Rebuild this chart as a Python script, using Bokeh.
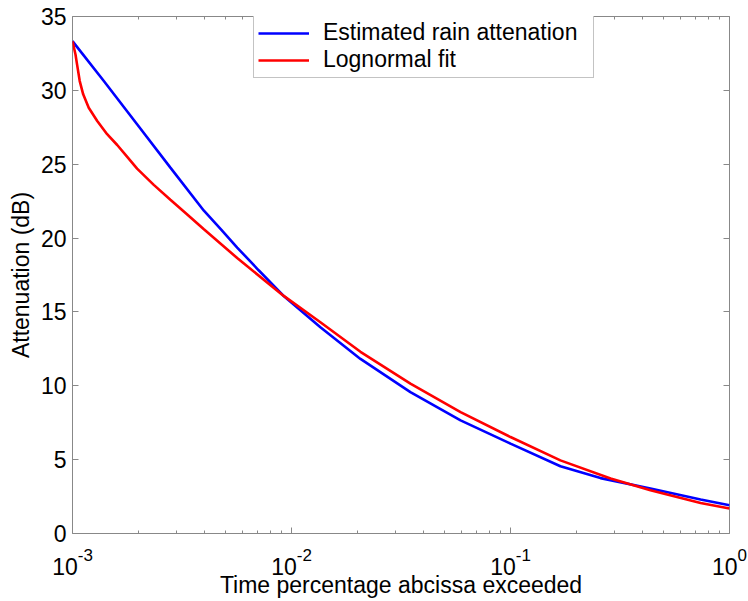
from bokeh.plotting import figure
from bokeh.models import (LogAxis, LinearAxis, FixedTicker, Range1d, Legend, LegendItem,
                          Label, CustomJSTickFormatter)
from bokeh.embed import file_html
from bokeh.resources import INLINE

# ---- data ----
est_x = [1.0e-3, 1.39e-3, 1.972e-3, 2.799e-3, 3.981e-3, 4.786e-3, 5.649e-3, 7.079e-3,
         9.183e-3, 1.355e-2, 2.065e-2, 3.491e-2, 5.916e-2, 0.1, 0.169, 0.2576,
         0.4355, 0.7379, 1.0]
est_y = [33.33, 30.63, 27.7, 24.77, 21.85, 20.55, 19.36, 17.82,
         16.1, 13.96, 11.82, 9.57, 7.66, 6.08, 4.55, 3.75,
         3.04, 2.30, 1.91]

fit_x = [1.0e-3, 1.032e-3, 1.049e-3, 1.079e-3, 1.119e-3, 1.186e-3, 1.297e-3, 1.439e-3,
         1.600e-3, 1.778e-3, 1.972e-3, 2.350e-3, 2.799e-3, 3.311e-3, 3.981e-3, 5.649e-3,
         9.183e-3, 1.355e-2, 2.065e-2, 3.491e-2, 5.916e-2, 0.1, 0.169, 0.2864,
         0.4355, 0.7379, 1.0]
fit_y = [33.33, 32.43, 31.76, 30.63, 29.73, 28.82, 27.93, 27.03,
         26.3, 25.5, 24.7, 23.6, 22.6, 21.65, 20.6, 18.65,
         16.1, 14.3, 12.3, 10.14, 8.22, 6.53, 4.95, 3.72,
         2.93, 2.07, 1.69]

series_labels = ["Estimated rain attenation", "Lognormal fit"]
x_tick_values = [1e-3, 1e-2, 1e-1, 1.0]
x_tick_exponents = ["-3", "-2", "-1", "0"]
y_tick_values = [0, 5, 10, 15, 20, 25, 30, 35]
x_label = "Time percentage abcissa exceeded"
y_label = "Attenuation (dB)"

FONT = "Liberation Sans"
AX = "#888888"
BASE_FS = 23
EXP_FS = 17

p = figure(frame_width=657, frame_height=517, x_axis_type="log",
           x_range=Range1d(1e-3, 1.0), y_range=Range1d(0, 35),
           output_backend="svg", toolbar_location=None,
           min_border_left=72, min_border_right=19, min_border_top=16, min_border_bottom=68,
           background_fill_color="white", border_fill_color="white")
p.grid.visible = False
p.outline_line_color = AX
p.outline_line_width = 1

minor = [k * 10.0 ** e for e in (-3, -2, -1) for k in range(2, 10)]
xticker = FixedTicker(ticks=x_tick_values, minor_ticks=minor)
yticker = FixedTicker(ticks=y_tick_values, minor_ticks=[])
empty = CustomJSTickFormatter(code="return ''")

def style(ax, labels):
    ax.axis_line_color = None
    ax.major_tick_line_color = AX
    ax.minor_tick_line_color = AX
    ax.major_tick_out = 0
    ax.minor_tick_out = 0
    if not labels:
        ax.major_label_text_font_size = "1px"
        ax.major_label_standoff = 0

xa = p.xaxis[0]
xa.ticker = xticker
xa.formatter = empty
style(xa, False)
xa.major_tick_in = 6
xa.minor_tick_in = 3
xa.axis_label = x_label
xa.axis_label_text_font = FONT
xa.axis_label_text_font_size = f"{BASE_FS}px"
xa.axis_label_text_font_style = "normal"
xa.axis_label_text_color = "black"
xa.axis_label_standoff = 38

ya = p.yaxis[0]
ya.ticker = yticker
style(ya, True)
ya.major_tick_in = 6
ya.minor_tick_in = 0
ya.major_label_text_font = FONT
ya.major_label_text_font_size = f"{BASE_FS}px"
ya.major_label_text_color = "black"
ya.major_label_standoff = 6
ya.axis_label = y_label
ya.axis_label_text_font = FONT
ya.axis_label_text_font_size = f"{BASE_FS}px"
ya.axis_label_text_font_style = "normal"
ya.axis_label_text_color = "black"
ya.axis_label_standoff = 4

top = LogAxis(ticker=xticker, formatter=empty)
style(top, False)
top.major_tick_in = 6
top.minor_tick_in = 3
p.add_layout(top, "above")

right = LinearAxis(ticker=yticker, formatter=empty)
style(right, False)
right.major_tick_in = 6
right.minor_tick_in = 0
p.add_layout(right, "right")

r1 = p.line(est_x, est_y, line_color="#0000ff", line_width=2.6)
r2 = p.line(fit_x, fit_y, line_color="#ff0000", line_width=2.6)

# x tick labels: "10" with a raised exponent, group centred on the tick
base_w = 2 * 0.556 * BASE_FS
for xv, e in zip(x_tick_values, x_tick_exponents):
    ew = sum((0.333 if c == "-" else 0.556) for c in e) * EXP_FS
    off = (base_w + ew) / 2 - ew
    p.add_layout(Label(x=xv, y=0, text="10", x_offset=off, y_offset=-33.4,
                       text_align="right", text_baseline="alphabetic",
                       text_font=FONT, text_font_size=f"{BASE_FS}px", text_color="black"),
                 "below")
    p.add_layout(Label(x=xv, y=0, text=e, x_offset=off, y_offset=-21.7,
                       text_align="left", text_baseline="alphabetic",
                       text_font=FONT, text_font_size=f"{EXP_FS}px", text_color="black"),
                 "below")

legend = Legend(items=[LegendItem(label=series_labels[0], renderers=[r1]),
                       LegendItem(label=series_labels[1], renderers=[r2])],
                location=(181, 455), margin=0, padding=4, spacing=0,
                glyph_width=51, glyph_height=20, label_standoff=14, label_width=266,
                label_text_font=FONT, label_text_font_size=f"{BASE_FS}px",
                label_text_color="black", border_line_color=AX, border_line_width=1,
                background_fill_color="white", background_fill_alpha=1.0)
p.add_layout(legend, "center")

open("out.html", "w").write(file_html(p, INLINE))
